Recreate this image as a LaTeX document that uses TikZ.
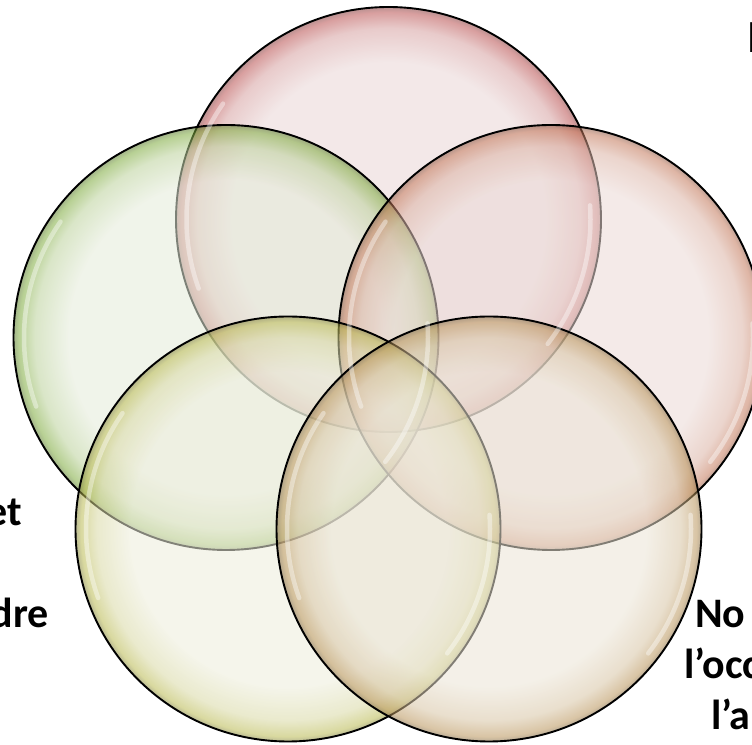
\documentclass[tikz,border=0pt]{standalone}
\usepackage{fontspec}
\setmainfont{Carlito}
\usetikzlibrary{calc}

\definecolor{rosein}{RGB}{233,213,213}
\definecolor{roserim}{RGB}{185,80,80}
\definecolor{leafin}{RGB}{228,235,217}
\definecolor{leafrim}{RGB}{125,170,60}
\definecolor{peachin}{RGB}{235,217,213}
\definecolor{peachrim}{RGB}{195,120,90}
\definecolor{limein}{RGB}{237,237,219}
\definecolor{limerim}{RGB}{185,185,80}
\definecolor{sandin}{RGB}{235,228,213}
\definecolor{sandrim}{RGB}{185,148,90}

\colorlet{bubin}{white}
\colorlet{bubrim}{gray}
\pgfdeclareradialshading[bubin,bubrim]{bubble}{\pgfpoint{0bp}{0bp}}{%
  color(0bp)=(bubin); color(18.5bp)=(bubin); color(22.5bp)=(bubin!60!bubrim);
  color(24.4bp)=(bubrim); color(25bp)=(bubrim!70!black); color(50bp)=(bubrim!70!black)}

\begin{document}
\begin{tikzpicture}[x=1pt,y=1pt,
    bubble/.style 2 args={circle, minimum size=425pt, inner sep=0pt,
      /utils/exec={\colorlet{bubin}{#1}\colorlet{bubrim}{#2}},
      shade, shading=bubble, fill opacity=0.55,
      draw=black, line width=1.9pt},
    gleam/.style={white, line width=4.5pt, opacity=0.4, line cap=round},
    lbl/.style={font=\bfseries\fontsize{42}{51}\selectfont, inner sep=0pt}
  ]
  \clip (0,0) rectangle (752,744);
  % the five bubbles
  \node[bubble={rosein}{roserim}] (rose) at (388.5,524.5) {};
  \node[bubble={leafin}{leafrim}] (leaf) at (226,406.5) {};
  \node[bubble={peachin}{peachrim}] (peach) at (551,406.5) {};
  \node[bubble={limein}{limerim}] (lime) at (288,215) {};
  \node[bubble={sandin}{sandrim}] (sand) at (489,215) {};
  % reflections
  \foreach \b in {rose,leaf,peach,lime,sand} {
    \draw[gleam] ($(\b.center)+(145:202)$) arc[start angle=145, end angle=200, radius=202];
    \draw[gleam] ($(\b.center)+(-38:202)$) arc[start angle=-38, end angle=4, radius=202];
  }
  % labels, cut by the page edge
  \node[lbl, anchor=base east] (lblet) at (22,218) {et};
  \node[lbl, anchor=base east] (lbldre) at (49,116) {dre};
  \node[lbl, anchor=base west] (lblno) at (695,116) {No};
  \node[lbl, anchor=base west] (lblocc) at (684,65) {l’occ};
  \node[lbl, anchor=base west] (lbla) at (711,14) {l’a};
  \node[font=\bfseries\fontsize{46}{46}\selectfont, inner sep=0pt, anchor=base west] (lbltop) at (747,691) {I};
\end{tikzpicture}
\end{document}
